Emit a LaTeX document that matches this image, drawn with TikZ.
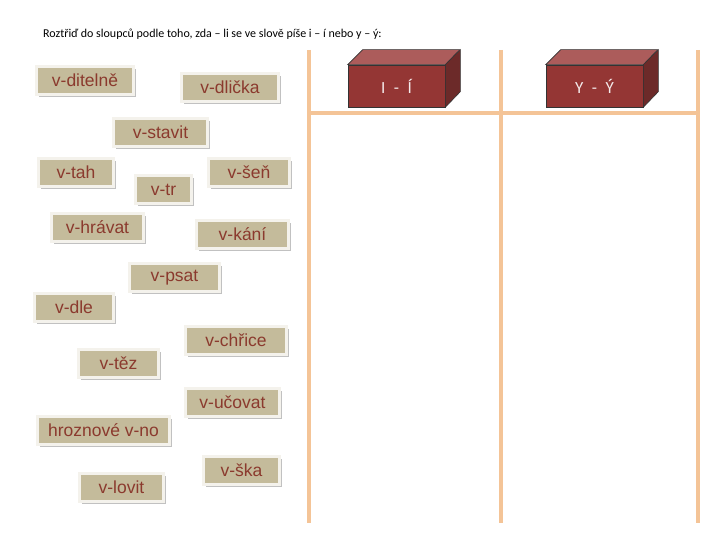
\documentclass[tikz,border=0pt]{standalone}
\usepackage{fontspec}
\setmainfont{Liberation Sans}
\newfontfamily\titlefont{Carlito}
\usepackage{tikz}
\usetikzlibrary{shadows}
\definecolor{cardtan}{HTML}{C4BB9B}
\definecolor{cardrim}{HTML}{F4F2EC}
\definecolor{cardtext}{HTML}{8B3A2E}
\definecolor{gridpeach}{HTML}{F4C497}
\definecolor{brickfront}{HTML}{943634}
\definecolor{bricktop}{HTML}{AC5C5B}
\definecolor{brickside}{HTML}{6C2A29}
\newcommand\headgap{\hspace{0.5em}}
\tikzset{
  card/.style={fill=cardtan,draw=cardrim,line width=3pt,minimum height=28pt,
    inner xsep=4pt,inner ysep=0pt,font=\fontsize{17.5}{18}\selectfont,text=cardtext,
    drop shadow={shadow xshift=2.5pt,shadow yshift=-2.5pt,fill=black!30,opacity=0.8}},
  brick/.style={fill=brickfront,draw=black!80,line width=0.6pt,minimum width=97pt,
    minimum height=42pt,inner sep=0pt,font=\titlefont\fontsize{17}{18}\selectfont,
    text=white!90!brickfront},
  gridline/.style={gridpeach,line width=4pt}
}
\begin{document}
\begin{tikzpicture}[x=1pt,y=-1pt]
  \useasboundingbox (0,0) rectangle (720,540);
  % Task
  \node[font=\titlefont\fontsize{12}{14}\selectfont,anchor=west,inner sep=0pt] (task) at (43,34)
    {Roztřiď do sloupců podle toho, zda – li se ve slově píše i – í nebo y – ý:};
  % Table for sorting
  \coordinate (gridA) at (309,50);
  \coordinate (gridB) at (501,50);
  \coordinate (gridC) at (698,50);
  \draw[gridline] (gridA) -- ++(0,473);
  \draw[gridline] (gridB) -- ++(0,473);
  \draw[gridline] (gridC) -- ++(0,473);
  \draw[gridline] (309,113) -- (698,113);
  % Column headings (3D bricks)
  \foreach \nm/\x/\lab in {colI/396.5/{I\headgap-\headgap Í}, colY/594.5/{Y\headgap-\headgap Ý}} {
    \node[brick] (\nm) at (\x,86) {};
    \filldraw[fill=bricktop,draw=black!80,line width=0.6pt]
      (\nm.north west) -- ++(15,-15) -- ++(97,0) -- (\nm.north east) -- cycle;
    \filldraw[fill=brickside,draw=black!80,line width=0.6pt]
      (\nm.north east) -- ++(15,-15) -- ++(0,42) -- (\nm.south east) -- cycle;
    \node[brick,fill=none,draw=none] at (\nm) {\lab};
  }
  % Word cards
  \foreach \nm/\txt/\x/\y/\w in {
      ditelne/v-ditelně/85/80.5/97, dlicka/v-dlička/230/87.5/97,
      stavit/v-stavit/160.5/132.5/94, tah/v-tah/76/172.5/75,
      tr/v-tr/163.5/189.5/56, senn/v-šeň/249/172.5/81,
      hravat/v-hrávat/97.5/227.5/92, kani/v-kání/242.5/234.5/92,
      psat/v-psat/174.5/277.5/90, dle/v-dle/74/307.5/79,
      chrice/v-chřice/236/340/101, tez/v-těz/118.5/363.5/80,
      ucovat/v-učovat/232.5/402.5/94, vino/hroznové v-no/103.5/430.5/132,
      ska/v-ška/241.5/470.5/76, lovit/v-lovit/121.5/487.5/84} {
    \node[card,minimum width=\w pt] (\nm) at (\x,\y) {\txt};
  }
\end{tikzpicture}
\end{document}
